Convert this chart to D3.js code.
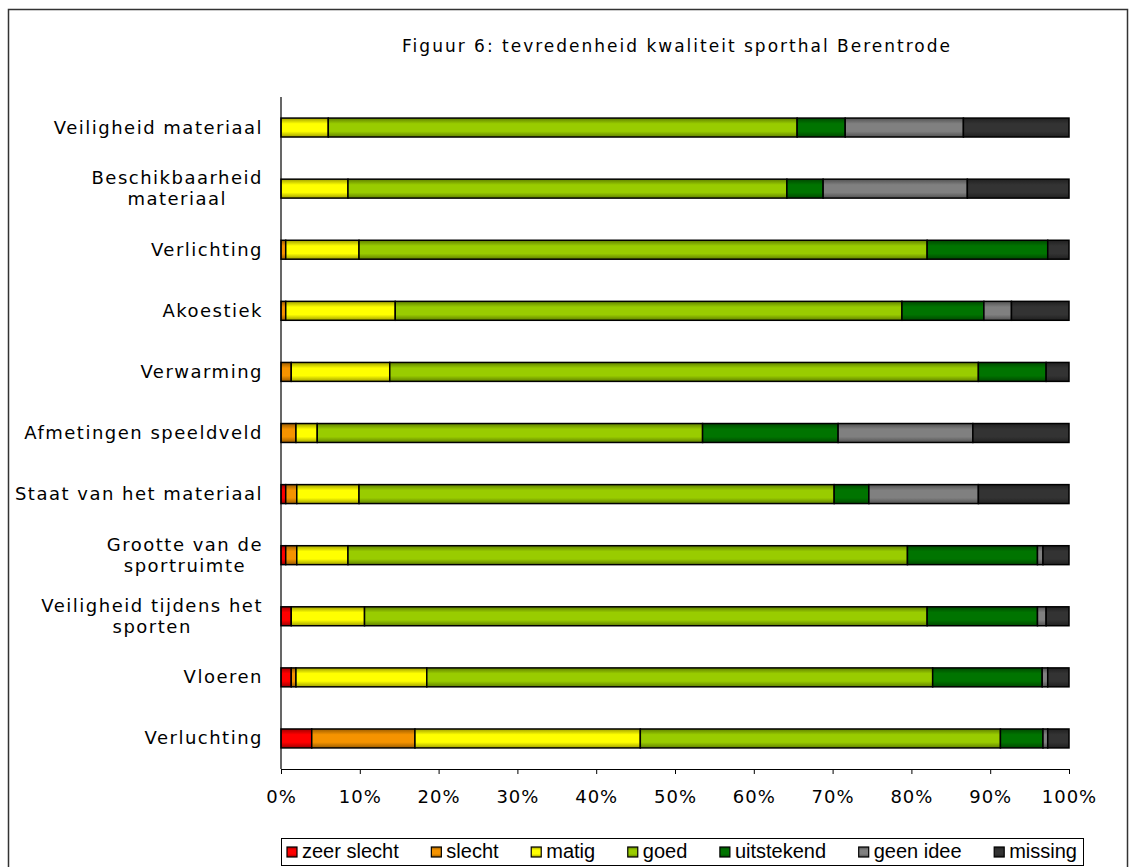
<!DOCTYPE html>
<html>
<head>
<meta charset="utf-8">
<script src="https://cdn.jsdelivr.net/npm/d3@7"></script>
<style>
  body { margin: 0; background: #fff; }
  text { font-family: "DejaVu Sans", Verdana, sans-serif; fill: #000; }
</style>
</head>
<body>
<div id="chart"></div>
<script>
// categories, top to bottom
const categories = [
  'Veiligheid materiaal',
  'Beschikbaarheid\nmateriaal',
  'Verlichting',
  'Akoestiek',
  'Verwarming',
  'Afmetingen speeldveld',
  'Staat van het materiaal',
  'Grootte van de\nsportruimte',
  'Veiligheid tijdens het\nsporten',
  'Vloeren',
  'Verluchting'
];

// percentages per answer, same order as categories
const zeerSlecht = [0, 0, 0, 0, 0, 0, 0.6, 0.6, 1.3, 1.3, 3.9];
const slecht     = [0, 0, 0.6, 0.6, 1.3, 1.9, 1.4, 1.4, 0, 0.6, 13.1];
const matig      = [6.0, 8.5, 9.3, 13.9, 12.5, 2.7, 7.9, 6.5, 9.3, 16.6, 28.6];
const goed       = [59.5, 55.7, 72.1, 64.3, 74.7, 48.9, 60.3, 71.0, 71.4, 64.2, 45.7];
const uitstekend = [6.1, 4.6, 15.3, 10.4, 8.6, 17.2, 4.4, 16.5, 14.0, 13.9, 5.4];
const geenIdee   = [15.0, 18.3, 0, 3.5, 0, 17.1, 13.9, 0.7, 1.1, 0.7, 0.6];
const missing    = [13.4, 12.9, 2.7, 7.3, 2.9, 12.2, 11.5, 3.3, 2.9, 2.7, 2.7];

const seriesNames = ['zeer slecht', 'slecht', 'matig', 'goed', 'uitstekend', 'geen idee', 'missing'];
const seriesValues = [zeerSlecht, slecht, matig, goed, uitstekend, geenIdee, missing];
const seriesColors = ['#ff0000', '#f59300', '#ffff00', '#99cc00', '#007400', '#808080', '#333333'];
const xTicks = [0, 0.1, 0.2, 0.3, 0.4, 0.5, 0.6, 0.7, 0.8, 0.9, 1];

const title = 'Figuur 6: tevredenheid kwaliteit sporthal Berentrode';

const W = 1131, H = 867;
const plotLeft = 281, plotRight = 1069, plotTop = 97, plotBottom = 769;
const labelFont = '18px', labelSpacing = '1.5px';

// build rows for d3.stack
let rows = categories.map((c, i) => {
  let r = { cat: c };
  seriesNames.forEach((s, k) => { r[s] = seriesValues[k][i]; });
  return r;
});
let stacked = d3.stack().keys(seriesNames).offset(d3.stackOffsetExpand)(rows);

let svg = d3.select('#chart').append('svg')
  .attr('width', W)
  .attr('height', H);

// gradients, darker at top and bottom edge of the bars
let defs = svg.append('defs');
seriesColors.forEach((col, k) => {
  let g = defs.append('linearGradient')
    .attr('id', 'grad' + k)
    .attr('x1', 0).attr('y1', 0).attr('x2', 0).attr('y2', 1);
  let dark = d3.color(col).darker(1.3);
  g.append('stop').attr('offset', '0%').attr('stop-color', dark);
  g.append('stop').attr('offset', '30%').attr('stop-color', col);
  g.append('stop').attr('offset', '70%').attr('stop-color', col);
  g.append('stop').attr('offset', '100%').attr('stop-color', dark);
});

// outer frame
svg.append('rect')
  .attr('x', 8.5).attr('y', 9.5)
  .attr('width', 1119).attr('height', 900)
  .attr('fill', 'none')
  .attr('stroke', '#333')
  .attr('stroke-width', 1.5);

// title
svg.append('text')
  .attr('x', 677).attr('y', 52)
  .attr('text-anchor', 'middle')
  .style('font-size', '17px')
  .style('letter-spacing', '2px')
  .text(title);

let x = d3.scaleLinear().domain([0, 1]).range([plotLeft, plotRight]);
let y = d3.scaleBand().domain(categories).range([plotTop, plotBottom])
  .paddingInner(0.69).paddingOuter(0.345);

// bars
let layer = svg.append('g').selectAll('g')
  .data(stacked)
  .join('g')
  .attr('fill', (d, k) => `url(#grad${k})`);

layer.selectAll('rect')
  .data(d => d.filter(p => p[1] - p[0] > 0))
  .join('rect')
  .attr('x', p => x(p[0]))
  .attr('y', p => y(p.data.cat))
  .attr('width', p => x(p[1]) - x(p[0]))
  .attr('height', y.bandwidth())
  .attr('stroke', '#000')
  .attr('stroke-width', 1.5);

// x axis
let xAxis = d3.axisBottom(x)
  .tickValues(xTicks)
  .tickFormat(d3.format('.0%'))
  .tickSize(5)
  .tickSizeOuter(0);
let gx = svg.append('g')
  .attr('transform', `translate(0,${plotBottom})`)
  .call(xAxis);
gx.select('.domain').attr('stroke', '#000').attr('stroke-width', 1.2);
gx.selectAll('.tick line').attr('stroke', '#000');
gx.selectAll('.tick text')
  .attr('y', 21)
  .style('font-size', '18px')
  .style('font-family', '"DejaVu Sans", Verdana, sans-serif')
  .style('letter-spacing', '1px');

// y axis line
svg.append('line')
  .attr('x1', plotLeft).attr('x2', plotLeft)
  .attr('y1', plotTop).attr('y2', plotBottom)
  .attr('stroke', '#000').attr('stroke-width', 1.2);

// category labels, multi-line ones centred on each other
let labelRight = 263;
categories.forEach(c => {
  let lines = c.split('\n');
  let cy = y(c) + y.bandwidth() / 2;
  let t = svg.append('text')
    .style('font-size', labelFont)
    .style('letter-spacing', labelSpacing);
  if (lines.length == 1) {
    t.attr('x', labelRight).attr('y', cy + 6)
      .attr('text-anchor', 'end')
      .text(c);
  } else {
    // measure the widest line first
    let widths = lines.map(l => {
      let tmp = svg.append('text').style('font-size', labelFont).style('letter-spacing', labelSpacing).text(l);
      let w = tmp.node().getComputedTextLength();
      tmp.remove();
      return w;
    });
    let mid = labelRight - d3.max(widths) / 2;
    lines.forEach((l, i) => {
      t.append('tspan')
        .attr('x', mid)
        .attr('y', cy + 6 + (i - (lines.length - 1) / 2) * 21)
        .attr('text-anchor', 'middle')
        .text(l);
    });
  }
});

// legend
let lx0 = 281, lx1 = 1083, ly0 = 838;
svg.append('rect')
  .attr('x', lx0 + 0.5).attr('y', ly0 + 0.5)
  .attr('width', lx1 - lx0).attr('height', 27)
  .attr('fill', '#fff')
  .attr('stroke', '#000')
  .attr('stroke-width', 1);

let legend = svg.append('g');
let items = seriesNames.map((s, k) => {
  let g = legend.append('g');
  g.append('rect')
    .attr('width', 10).attr('height', 10)
    .attr('y', -11)
    .attr('fill', `url(#grad${k})`)
    .attr('stroke', '#000').attr('stroke-width', 1.2);
  let t = g.append('text')
    .attr('x', 15).attr('y', 0)
    .style('font-family', '"Liberation Sans", Arial, sans-serif')
    .style('font-size', '20px')
    .text(s);
  return { g: g, w: 15 + t.node().getComputedTextLength() };
});
let totalW = d3.sum(items, d => d.w);
let gap = (lx1 - lx0 - 12 - totalW) / (items.length - 1);
let cx = lx0 + 6;
items.forEach(it => {
  it.g.attr('transform', `translate(${cx},${ly0 + 20})`);
  cx += it.w + gap;
});
</script>
</body>
</html>
